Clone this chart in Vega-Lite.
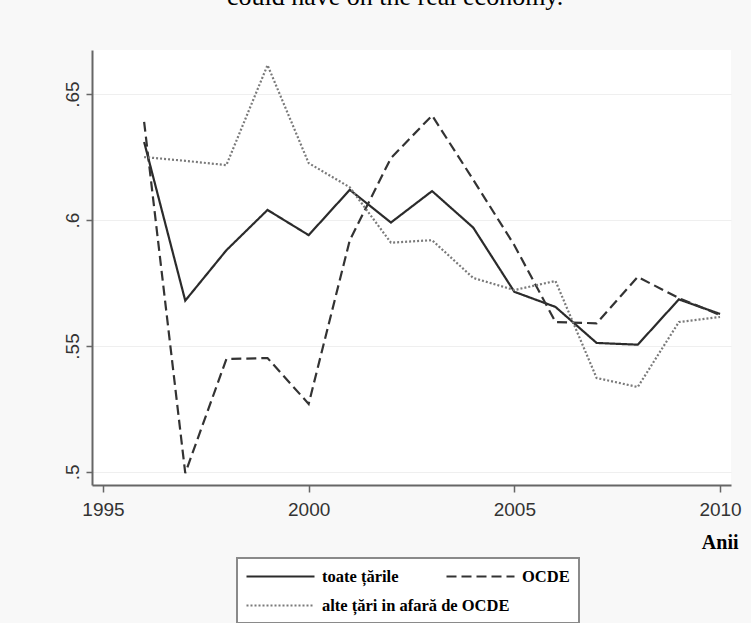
{
  "$schema": "https://vega.github.io/schema/vega-lite/v6.json",
  "width": 639,
  "height": 435,
  "autosize": {"type": "none"},
  "padding": {"left": 92, "top": 50, "right": 20, "bottom": 138},
  "background": "#f8f8f8",
  "title": {
    "text": "could have on the real economy.",
    "anchor": "start",
    "dx": 164,
    "offset": 40,
    "font": "Liberation Serif",
    "fontSize": 26,
    "fontWeight": "normal",
    "color": "#000000"
  },
  "config": {"view": {"fill": "white", "stroke": null}},
  "data": {
    "values": [
      {"year": 1996, "value": 0.631, "series": "toate țările"},
      {"year": 1997, "value": 0.568, "series": "toate țările"},
      {"year": 1998, "value": 0.588, "series": "toate țările"},
      {"year": 1999, "value": 0.604, "series": "toate țările"},
      {"year": 2000, "value": 0.594, "series": "toate țările"},
      {"year": 2001, "value": 0.612, "series": "toate țările"},
      {"year": 2002, "value": 0.599, "series": "toate țările"},
      {"year": 2003, "value": 0.6115, "series": "toate țările"},
      {"year": 2004, "value": 0.597, "series": "toate țările"},
      {"year": 2005, "value": 0.5715, "series": "toate țările"},
      {"year": 2006, "value": 0.5655, "series": "toate țările"},
      {"year": 2007, "value": 0.5512, "series": "toate țările"},
      {"year": 2008, "value": 0.5505, "series": "toate țările"},
      {"year": 2009, "value": 0.5685, "series": "toate țările"},
      {"year": 2010, "value": 0.5627, "series": "toate țările"},
      {"year": 1996, "value": 0.639, "series": "OCDE"},
      {"year": 1997, "value": 0.4995, "series": "OCDE"},
      {"year": 1998, "value": 0.5448, "series": "OCDE"},
      {"year": 1999, "value": 0.5452, "series": "OCDE"},
      {"year": 2000, "value": 0.527, "series": "OCDE"},
      {"year": 2001, "value": 0.592, "series": "OCDE"},
      {"year": 2002, "value": 0.6246, "series": "OCDE"},
      {"year": 2003, "value": 0.6415, "series": "OCDE"},
      {"year": 2004, "value": 0.616, "series": "OCDE"},
      {"year": 2005, "value": 0.59, "series": "OCDE"},
      {"year": 2006, "value": 0.5595, "series": "OCDE"},
      {"year": 2007, "value": 0.559, "series": "OCDE"},
      {"year": 2008, "value": 0.5774, "series": "OCDE"},
      {"year": 2009, "value": 0.569, "series": "OCDE"},
      {"year": 2010, "value": 0.5623, "series": "OCDE"},
      {"year": 1996, "value": 0.625, "series": "alte țări in afară de OCDE"},
      {"year": 1997, "value": 0.6235, "series": "alte țări in afară de OCDE"},
      {"year": 1998, "value": 0.6218, "series": "alte țări in afară de OCDE"},
      {"year": 1999, "value": 0.6615, "series": "alte țări in afară de OCDE"},
      {"year": 2000, "value": 0.6226, "series": "alte țări in afară de OCDE"},
      {"year": 2001, "value": 0.613, "series": "alte țări in afară de OCDE"},
      {"year": 2002, "value": 0.591, "series": "alte țări in afară de OCDE"},
      {"year": 2003, "value": 0.592, "series": "alte țări in afară de OCDE"},
      {"year": 2004, "value": 0.577, "series": "alte țări in afară de OCDE"},
      {"year": 2005, "value": 0.5722, "series": "alte țări in afară de OCDE"},
      {"year": 2006, "value": 0.5758, "series": "alte țări in afară de OCDE"},
      {"year": 2007, "value": 0.5373, "series": "alte țări in afară de OCDE"},
      {"year": 2008, "value": 0.5337, "series": "alte țări in afară de OCDE"},
      {"year": 2009, "value": 0.5595, "series": "alte țări in afară de OCDE"},
      {"year": 2010, "value": 0.5615, "series": "alte țări in afară de OCDE"}
    ]
  },
  "mark": {"type": "line", "strokeCap": "butt"},
  "encoding": {
    "x": {
      "field": "year",
      "type": "quantitative",
      "scale": {"domain": [1994.733, 2010.267], "nice": false, "zero": false},
      "axis": {
        "values": [1995, 2000, 2005, 2010],
        "format": "d",
        "title": "Anii",
        "grid": false,
        "domainColor": "#666666",
        "domainWidth": 2,
        "tickColor": "#666666",
        "tickWidth": 1.5,
        "tickSize": 7,
        "labelFont": "Liberation Sans",
        "labelFontSize": 19,
        "labelColor": "#333333",
        "labelPadding": 8,
        "titleFont": "Liberation Serif",
        "titleFontWeight": "bold",
        "titleFontSize": 20,
        "titleColor": "#000000",
        "titleAlign": "right",
        "titleAnchor": "end",
        "titleBaseline": "alphabetic",
        "titleX": 646,
        "titleY": 63
      }
    },
    "y": {
      "field": "value",
      "type": "quantitative",
      "scale": {"domain": [0.4948, 0.6675], "nice": false, "zero": false},
      "axis": {
        "values": [0.5, 0.55, 0.6, 0.65],
        "labelExpr": "substring(format(datum.value, '.2~f'), 1)",
        "title": null,
        "grid": true,
        "gridColor": "#efefef",
        "gridWidth": 1,
        "domainColor": "#666666",
        "domainWidth": 2,
        "tickColor": "#666666",
        "tickWidth": 1.5,
        "tickSize": 6,
        "labelAngle": -90,
        "labelAlign": "center",
        "labelBaseline": "bottom",
        "labelFont": "Liberation Sans",
        "labelFontSize": 19,
        "labelColor": "#333333",
        "labelPadding": 4
      }
    },
    "color": {
      "field": "series",
      "type": "nominal",
      "scale": {
        "domain": ["toate țările", "OCDE", "alte țări in afară de OCDE"],
        "range": ["#2b2b2b", "#333333", "#7a7a7a"]
      },
      "legend": {
        "title": null,
        "orient": "none",
        "direction": "horizontal",
        "legendX": 145,
        "legendY": 508,
        "columns": 2,
        "gridAlign": "none",
        "columnPadding": -68,
        "rowPadding": 11,
        "padding": 9,
        "fillColor": "white",
        "strokeColor": "#8a8a8a",
        "symbolType": "M-4.25,0H4.25",
        "symbolSize": 256,
        "symbolOffset": 25,
        "labelFont": "Liberation Serif",
        "labelFontWeight": "bold",
        "labelFontSize": 16.5,
        "labelColor": "#000000",
        "labelOffset": 32,
        "labelLimit": 400,
        "encode": {"legend": {"update": {"strokeWidth": {"value": 2}}}}
      }
    },
    "strokeDash": {
      "field": "series",
      "type": "nominal",
      "scale": {
        "domain": ["toate țările", "OCDE", "alte țări in afară de OCDE"],
        "range": [[1, 0], [10, 5], [2, 2]]
      },
      "legend": null
    },
    "strokeWidth": {
      "field": "series",
      "type": "nominal",
      "scale": {
        "domain": ["toate țările", "OCDE", "alte țări in afară de OCDE"],
        "range": [2.2, 2.2, 1.6]
      },
      "legend": null
    }
  }
}
